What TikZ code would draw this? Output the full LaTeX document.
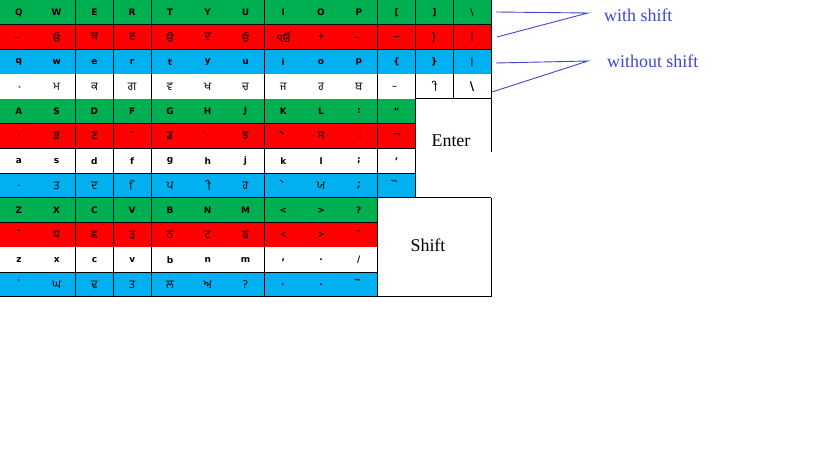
\documentclass[tikz,border=0pt]{standalone}
\usepackage{fontspec}
\setmainfont{Liberation Serif}
\setsansfont{DejaVu Sans}
\newfontfamily\gurfont[Script=Gurmukhi]{Hind Jalandhar}
\newcommand\nb{^^a0}
\newcommand\kw{37.77}
\newcommand\kh{24.75}
\definecolor{xlgreen}{HTML}{00B050}
\definecolor{xlred}{HTML}{FF0000}
\definecolor{xlblue}{HTML}{00B0F0}
\definecolor{penblue}{HTML}{3F48CC}
\tikzset{
x=1bp, y=-1bp, % pixel units, y runs downwards
key/.style={inner sep=0pt, font=\sffamily\bfseries\fontsize{9}{9}\selectfont}, % latin key labels
gkey/.style={inner sep=0pt, font=\gurfont\fontsize{11.5}{11.5}\selectfont}, % gurmukhi key labels
bigkey/.style={inner sep=0pt, font=\fontsize{18}{18}\selectfont}, % Enter and Shift
note/.style={inner sep=0pt, anchor=west, text=penblue, font=\fontsize{18}{18}\selectfont}, % notes on the right
pointer/.style={penblue, line width=0.9bp}, % lines from the notes
grid/.style={black, line width=1bp}, % cell borders
}

\begin{document}
\begin{tikzpicture}
\useasboundingbox (0,0) rectangle (819,460);
\foreach \r/\rc/\nk/\kstyle/\labels in {
1/xlgreen/13/key/{Q,W,E,R,T,Y,U,I,O,P,[,],\textbackslash},
2/xlred/13/gkey/{\nb ੁ,ਓ,ਥ,ੲ,ੳ,ਦ,ਓ,ੴ,+,\nb ੁ,\_,\},|},
3/xlblue/13/key/{q,w,e,r,t,y,u,i,o,p,\{,\},|},
4/white/13/gkey/{\nb ੍,ਮ,ਕ,ਗ,ਵ,ਖ,ਚ,ਜ,ਰ,ਬ,\nb ੁ,\nb ੀ,{\sffamily\bfseries\fontsize{12}{12}\selectfont\textbackslash}},
5/xlgreen/11/key/{A,S,D,F,G,H,J,K,L,:,“},
6/xlred/11/gkey/{.,ਭ,ਣ,{\sffamily ¯},ਡ,.,ਝ,\nb ੈ,ਸ,\nb ਃ,{\sffamily ¬}},
7/white/11/key/{a,s,d,f,g,h,j,k,l,;,’},
8/xlblue/11/gkey/{.,ਤ,ਦ,\nb ਿ,ਪ,\nb ੀ,ਹ,\nb ੇ,ਯ,{\bfseries ;},\nb ੋ},
9/xlgreen/10/key/{Z,X,C,V,B,N,M,<,>,?},
10/xlred/10/gkey/{\nb ੱ,ਧ,ਛ,ੜ,ਠ,ਟ,ਙ,<,>,\nb ੰ},
11/white/10/key/{z,x,c,v,b,n,m,{,},.,/},
12/xlblue/10/gkey/{\nb ਂ,ਘ,ਢ,ਤ,ਲ,ਅ,?,{,},{\bfseries .},\nb ੌ}%
}{
\fill[\rc] (0,{(\r-1)*\kh}) rectangle ({\nk*\kw},{\r*\kh});
\foreach \t [count=\c] in \labels
\node[\kstyle] (k\r-\c) at ({(\c-0.5)*\kw},{(\r-0.5)*\kh}) {\t};
}
% cell borders
\draw[grid] (0,24.75) -- (491,24.75) (0,49.5) -- (491,49.5);
\draw[grid] (0,123.75) -- (415.47,123.75) (0,148.5) -- (415.47,148.5) (0,173.25) -- (415.47,173.25) (0,198) -- (491,198);
\draw[grid] (0,222.75) -- (377.7,222.75) (0,272.25) -- (377.7,272.25) (0,297) -- (491,297);
\foreach \x in {75.54,113.31,151.08,264.39,377.7}
\draw[grid] (\x,0) -- (\x,297);
\draw[grid] (415.47,0) -- (415.47,198) (453.24,0) -- (453.24,99) (415.47,99) -- (491,99);
\draw[grid] (491,0) -- (491,152) (491,198) -- (491,297);
% big keys
\node[bigkey] (enter) at (451,141) {Enter};
\node[bigkey] (shift) at (428,245) {Shift};
% notes
\node[note] (withshift) at (604,15) {with shift};
\node[note] (noshift) at (607,61) {without shift};
\coordinate (ws-tip) at (588,13);
\coordinate (ws-a) at (496,12);
\coordinate (ws-b) at (497,37);
\coordinate (ns-tip) at (588,61);
\coordinate (ns-a) at (496,63);
\coordinate (ns-b) at (492,92);
\draw[pointer] (ws-a) -- (ws-tip) -- (ws-b);
\draw[pointer] (ns-a) -- (ns-tip) -- (ns-b);
\end{tikzpicture}
\end{document}
